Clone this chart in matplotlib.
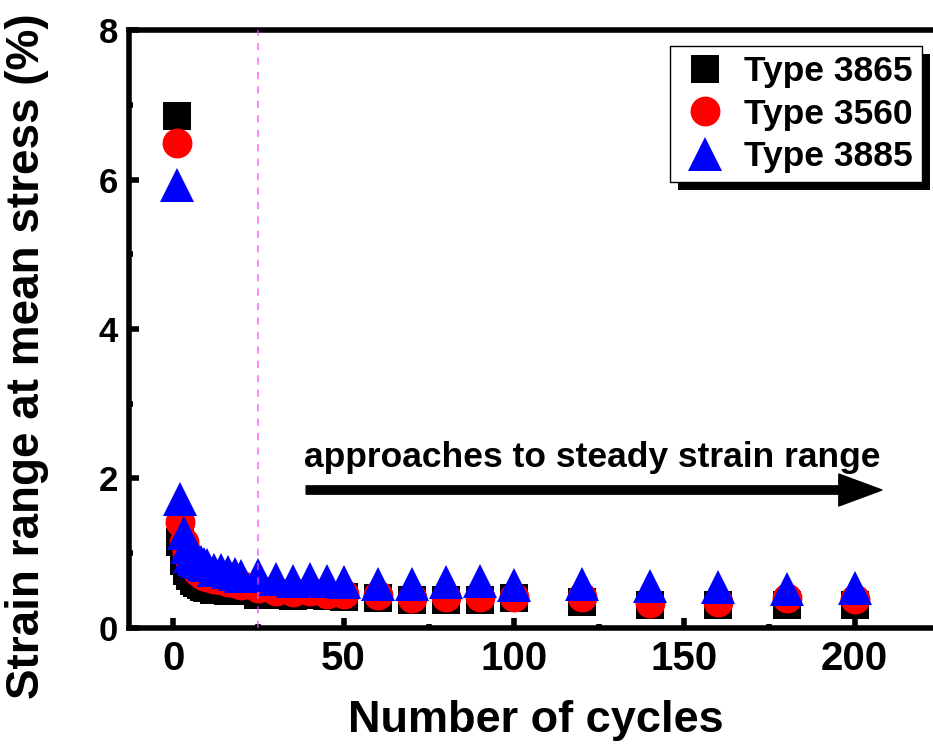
import matplotlib
matplotlib.use("Agg")
import matplotlib.pyplot as plt
from matplotlib.patches import Rectangle
from matplotlib.transforms import IdentityTransform

plt.rcParams['font.family'] = ['Liberation Sans', 'DejaVu Sans']
plt.rcParams['font.weight'] = 'bold'

# data
cycles = [1, 2, 3, 4, 5, 6, 7, 8, 9, 10, 12, 14, 16, 18, 20, 25, 30, 35, 40, 45, 50,
          60, 70, 80, 90, 100, 120, 140, 160, 180, 200]
type_3865 = [6.85, 1.15, 0.89, 0.76, 0.69, 0.63, 0.60, 0.57, 0.55, 0.53, 0.51, 0.51, 0.50,
             0.50, 0.50, 0.44, 0.44, 0.43, 0.44, 0.43, 0.41,
             0.40, 0.375, 0.375, 0.375, 0.40, 0.35, 0.31, 0.31, 0.31, 0.31]
type_3560 = [6.49, 1.42, 1.15, 1.00, 0.90, 0.82, 0.76, 0.72, 0.70, 0.68, 0.66, 0.64, 0.61,
             0.60, 0.58, 0.53, 0.50, 0.48, 0.49, 0.46, 0.46,
             0.44, 0.40, 0.41, 0.41, 0.42, 0.42, 0.34, 0.35, 0.40, 0.39]
type_3885 = [5.93, 1.73, 1.27, 1.08, 0.96, 0.92, 0.90, 0.88, 0.86, 0.84, 0.78, 0.77, 0.75,
             0.72, 0.70, 0.71, 0.65, 0.63, 0.65, 0.63, 0.62,
             0.585, 0.585, 0.62, 0.63, 0.575, 0.585, 0.56, 0.55, 0.52, 0.54]
labels = ['Type 3865', 'Type 3560', 'Type 3885']

fig = plt.figure(figsize=(9.33, 7.52), dpi=100)
ax = fig.add_axes([0.1383, 0.1649, 0.8617, 0.7952])

ax.plot(cycles, type_3865, 's', color='black', ms=19.5, mew=0, label=labels[0], zorder=3)
ax.plot(cycles, type_3560, 'o', color='red', ms=21.5, mew=0, label=labels[1], zorder=4)
ax.plot(cycles, type_3885, '^', color='blue', ms=24, mew=0, label=labels[2], zorder=5)

# dashed guide at 25 cycles
ax.axvline(25, color='#ff44ff', alpha=0.7, lw=1.3, ls=(0, (4, 4)), zorder=6)

ax.annotate('', xy=(208, 1.846), xytext=(39, 1.846),
            arrowprops=dict(width=6, headwidth=23, headlength=31, color='black', shrink=0))
ax.text(123, 2.15, 'approaches to steady strain range', ha='center', va='baseline',
        fontsize=25.5, fontweight='bold')

ax.set_xlim(-13, 223)
ax.set_ylim(0, 8)
ax.set_xticks([0, 50, 100, 150, 200])
ax.set_xticks([25, 75, 125, 175], minor=True)
ax.set_yticks([0, 2, 4, 6, 8])
ax.set_yticks([1, 3, 5, 7], minor=True)
ax.tick_params(which='both', direction='in', width=4)
ax.tick_params(which='major', length=7)
ax.tick_params(which='minor', length=3)
ax.tick_params(axis='y', labelsize=25, pad=8)
ax.tick_params(axis='x', labelsize=29, pad=9)

for side in ['left', 'bottom', 'top']:
    ax.spines[side].set_linewidth(4)
ax.spines['right'].set_visible(False)

ax.set_xlabel('Number of cycles', fontsize=32.5, fontweight='bold')
ax.set_ylabel('Strain range at mean stress (%)', fontsize=33, fontweight='bold')
ax.xaxis.set_label_coords(0.506, -0.12)
ax.yaxis.set_label_coords(-0.10, 0.455)

leg = ax.legend(loc='upper right', bbox_to_anchor=(0.986, 0.973), borderaxespad=0,
                fontsize=25.5, frameon=True, fancybox=False, framealpha=1,
                edgecolor='black', labelspacing=0.27, handletextpad=0.35,
                borderpad=0.25, handlelength=1.5)
leg.get_frame().set_linewidth(1)
leg.set_zorder(10)

# hard black drop shadow behind the legend box
fig.canvas.draw()
bb = leg.get_frame().get_window_extent()
ax.add_patch(Rectangle((bb.x0 + 8, bb.y0 - 8), bb.width, bb.height, transform=IdentityTransform(),
                       facecolor='black', edgecolor='none', zorder=9.5, clip_on=False))

fig.savefig('out.png', dpi=100)
